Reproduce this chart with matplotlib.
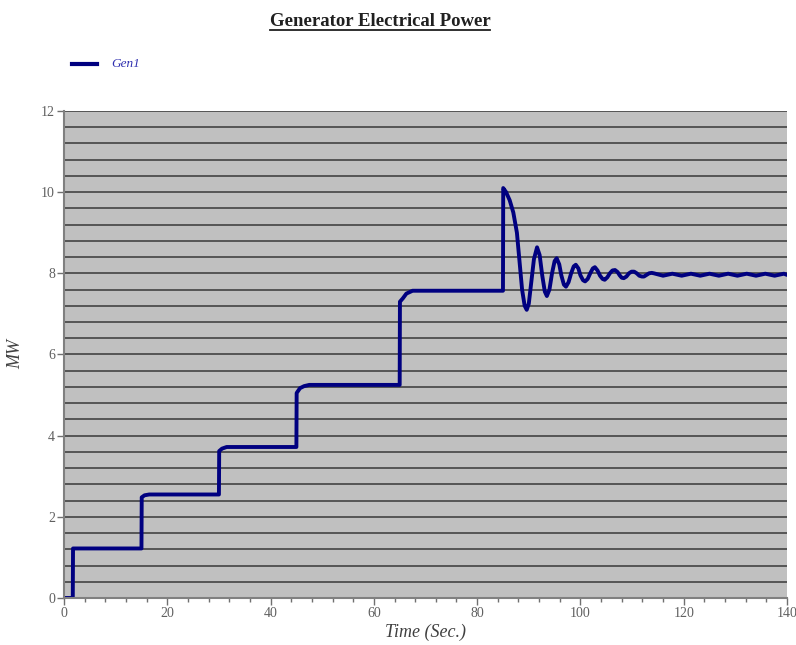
import matplotlib
matplotlib.use('Agg')
import matplotlib.pyplot as plt
from matplotlib.lines import Line2D
from matplotlib.ticker import MultipleLocator

# Gen1 electrical power (MW) vs time (s)
time_s = [0, 1.7, 1.75, 15.0, 15.05, 15.6, 16.5, 30.0, 30.05, 30.6, 31.5,
          45.0, 45.05, 45.7, 46.5, 47.5, 65.0, 65.05, 65.6, 66.3, 67.5,
          85.0, 85.05, 85.6, 86.3, 87.0, 87.7, 88.2, 88.7, 89.2, 89.6,
          90.0, 90.5, 91.0, 91.6, 92.1, 92.6, 93.1, 93.5, 94.0, 94.5,
          95.0, 95.4, 95.9, 96.3, 96.8, 97.2, 97.7, 98.2, 98.7, 99.1,
          99.6, 100.0, 100.5, 100.9, 101.4, 101.9, 102.4, 102.8, 103.3, 103.8,
          104.3, 104.7, 105.2, 105.7, 106.2, 106.7, 107.2, 107.6, 108.0, 108.4,
          108.9, 109.4, 109.9, 110.4, 110.9, 111.4, 111.9, 112.3, 112.8, 113.3,
          113.8, 114.2, 116.0, 117.8, 119.6, 121.4, 123.2, 125.0, 126.8, 128.6,
          130.4, 132.2, 134.0, 135.8, 137.6, 139.4, 140.0]
power_mw = [0, 0, 1.22, 1.22, 2.48, 2.53, 2.55, 2.55, 3.62, 3.68, 3.72,
            3.72, 5.05, 5.17, 5.22, 5.25, 5.25, 7.30, 7.38, 7.50, 7.57,
            7.57, 10.10, 10.00, 9.80, 9.50, 9.00, 8.30, 7.60, 7.20, 7.10,
            7.25, 7.80, 8.35, 8.64, 8.45, 7.95, 7.55, 7.44, 7.60, 8.00,
            8.30, 8.37, 8.22, 7.95, 7.72, 7.67, 7.78, 8.00, 8.17, 8.21,
            8.12, 7.95, 7.83, 7.80, 7.86, 8.00, 8.12, 8.15, 8.07, 7.94,
            7.86, 7.84, 7.90, 8.00, 8.07, 8.08, 8.03, 7.95, 7.89, 7.88,
            7.92, 8.00, 8.04, 8.04, 8.00, 7.94, 7.92, 7.92, 7.96, 8.00,
            8.01, 8.00, 7.94, 7.99, 7.94, 7.99, 7.94, 7.99, 7.94, 7.99,
            7.94, 7.99, 7.94, 7.99, 7.94, 7.99, 7.96]

serif = ['Liberation Serif', 'DejaVu Serif']
plt.rcParams['font.family'] = serif

fig = plt.figure(figsize=(7.96, 6.45), dpi=100)
ax = fig.add_axes([0.0804, 0.0729, 0.9083, 0.7551])
ax.set_facecolor('#c0c0c0')

ax.set_xlim(0, 140)
ax.set_ylim(0, 12)
ax.xaxis.set_major_locator(MultipleLocator(20))
ax.xaxis.set_minor_locator(MultipleLocator(4))
ax.yaxis.set_major_locator(MultipleLocator(2))
ax.yaxis.set_minor_locator(MultipleLocator(0.4))
ax.grid(axis='y', which='both', color='#555555', linewidth=1.4)
ax.set_axisbelow(True)

for s in ['top', 'right']:
    ax.spines[s].set_visible(False)
ax.spines['left'].set_color('#808080')
ax.spines['left'].set_linewidth(1.5)
ax.spines['bottom'].set_color('#808080')
ax.spines['bottom'].set_linewidth(1.5)

ax.tick_params(axis='both', which='major', labelsize=10, colors='#707070',
               labelcolor='#606060', length=5, width=1, pad=1.5)
ax.tick_params(axis='x', which='minor', length=3, width=1, colors='#707070')
ax.tick_params(axis='y', which='minor', length=0)

ax.plot(time_s, power_mw, color='#000080', linewidth=2.8, label='Gen1',
        solid_joinstyle='round', solid_capstyle='round')

ax.set_xlabel('Time (Sec.)', fontsize=13, style='italic', color='#404040', labelpad=3)
ax.set_ylabel('MW', fontsize=13, style='italic', color='#404040', labelpad=12)

# legend drawn by hand at the top left
fig.add_artist(Line2D([0.091, 0.122], [0.901, 0.901], color='#000080', linewidth=3,
                      transform=fig.transFigure))
fig.text(0.14, 0.901, 'Gen1', fontsize=9.5, style='italic', color='#3030b0', va='center')

# underlined bold title
title = fig.text(0.4774, 0.966, 'Generator Electrical Power', fontsize=13.5,
                 fontweight='bold', ha='center', va='center', color='#202020')
fig.canvas.draw()
bb = title.get_window_extent().transformed(fig.transFigure.inverted())
fig.add_artist(Line2D([bb.x0, bb.x1], [bb.y0 + 0.001, bb.y0 + 0.001], color='#202020',
                      linewidth=1.3, transform=fig.transFigure))

fig.savefig('out.png', dpi=100)
